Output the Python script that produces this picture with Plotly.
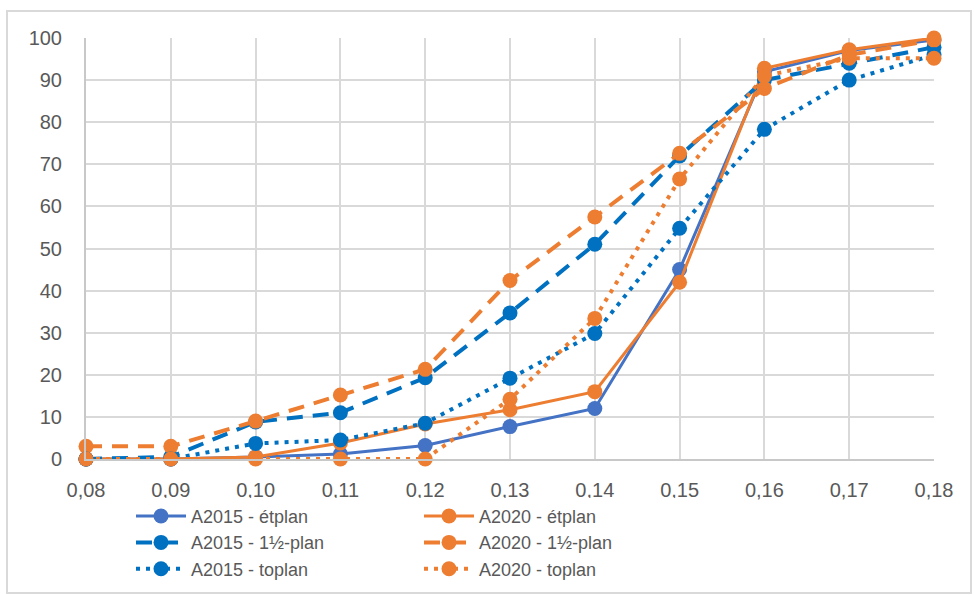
import plotly.graph_objects as go

x_vals = [0.08, 0.09, 0.10, 0.11, 0.12, 0.13, 0.14, 0.15, 0.16, 0.17, 0.18]
x_labels = ["0,08", "0,09", "0,10", "0,11", "0,12", "0,13", "0,14", "0,15", "0,16", "0,17", "0,18"]

a2015_et = [0, 0, 0.5, 1.2, 3.2, 7.7, 12.0, 45.0, 92.0, 97.0, 99.5]
a2020_et = [0, 0, 0.5, 3.8, 8.3, 11.7, 16.0, 42.0, 92.8, 97.2, 100]
a2015_half = [0, 0.5, 8.8, 11.0, 19.3, 34.7, 51.0, 72.0, 90.0, 94.0, 97.8]
a2020_half = [3, 3, 9.0, 15.2, 21.3, 42.4, 57.5, 72.6, 88.0, 96.0, 99.5]
a2015_top = [0, 0, 3.7, 4.5, 8.5, 19.2, 29.8, 54.8, 78.3, 90.0, 96.0]
a2020_top = [0, 0, 0, 0, 0, 14.2, 33.4, 66.5, 91.0, 95.2, 95.2]

y_ticks = [0, 10, 20, 30, 40, 50, 60, 70, 80, 90, 100]

BLUE1 = "#4472C4"
BLUE2 = "#0070C0"
ORANGE = "#ED7D31"

series = [
    ("A2015 - étplan", a2015_et, BLUE1, "solid", 3),
    ("A2020 - étplan", a2020_et, ORANGE, "solid", 3),
    ("A2015 - 1½-plan", a2015_half, BLUE2, "16px,10px", 4),
    ("A2020 - 1½-plan", a2020_half, ORANGE, "16px,10px", 4),
    ("A2015 - toplan", a2015_top, BLUE2, "4px,6px", 4),
    ("A2020 - toplan", a2020_top, ORANGE, "4px,6px", 4),
]

fig = go.Figure()
for name, ys, col, dash, w in series:
    fig.add_trace(go.Scatter(
        x=x_vals, y=ys, name=name, mode="lines+markers",
        line=dict(color=col, width=w, dash=dash),
        marker=dict(color=col, size=15),
        cliponaxis=False,
    ))

grid = "#D9D9D9"
fig.update_layout(
    width=974, height=595,
    margin=dict(l=86, r=40, t=38, b=136, autoexpand=False),
    paper_bgcolor="white", plot_bgcolor="white",
    font=dict(family="Liberation Sans, Arial, sans-serif", color="#595959"),
    showlegend=True,
    legend=dict(
        orientation="h", xref="container", yref="container",
        x=0.1345, y=0.1634, xanchor="left", yanchor="top",
        font=dict(size=18, color="#595959"),
        entrywidth=223, entrywidthmode="pixels",
        itemwidth=50, tracegroupgap=0,
    ),
    xaxis=dict(
        range=[0.08, 0.18], tickvals=x_vals, ticktext=x_labels,
        showgrid=True, gridcolor=grid, gridwidth=2,
        showline=True, linecolor="#C8C8C8", linewidth=2,
        zeroline=False, ticks="", tickfont=dict(size=20, color="#595959"),
        ticklabelstandoff=12,
    ),
    yaxis=dict(
        range=[0, 100], tickvals=y_ticks,
        showgrid=True, gridcolor=grid, gridwidth=2,
        showline=True, linecolor="#C8C8C8", linewidth=2,
        zeroline=False, ticks="", tickfont=dict(size=20, color="#595959"),
        ticklabelstandoff=18,
    ),
    shapes=[dict(
        type="rect", xref="paper", yref="paper",
        x0=(7 - 86) / 848, x1=(971 - 86) / 848,
        y0=(459 - 593) / 421, y1=(459 - 11) / 421,
        line=dict(color="#D9D9D9", width=2), fillcolor="rgba(0,0,0,0)",
        layer="below",
    )],
)

fig.write_html("out.html")
